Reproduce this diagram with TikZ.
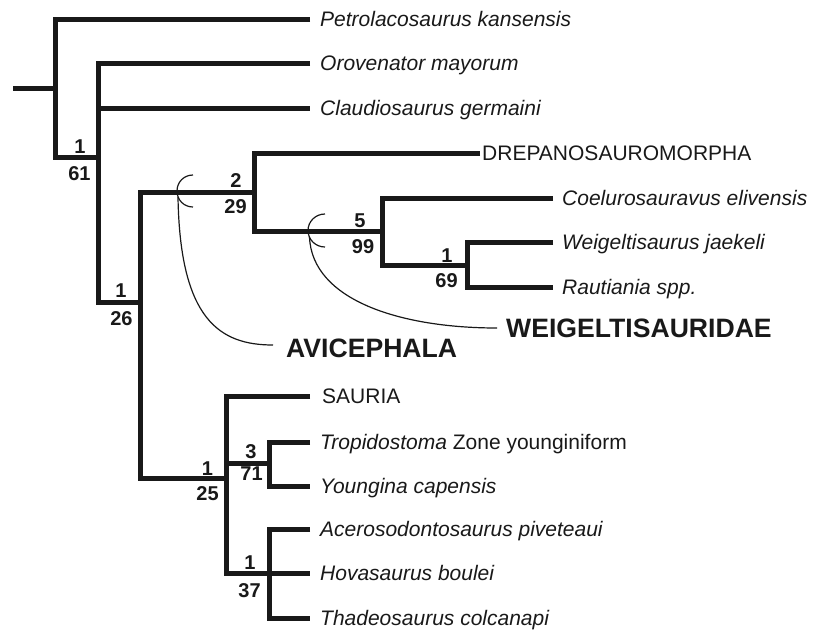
\documentclass[tikz,border=0pt]{standalone}
\usepackage{fontspec}
\setmainfont{Liberation Sans}
\begin{document}
\begin{tikzpicture}[x=1pt,y=-1pt,
  branch/.style={line width=5pt, line join=miter, line cap=butt, black!90},
  taxon/.style={anchor=west, inner sep=0pt, text height=15pt, text depth=0pt, font=\fontsize{21}{25}\selectfont, text=black!90},
  supp/.style={anchor=base, inner sep=0pt, font=\bfseries\fontsize{20}{24}\selectfont, text=black!90},
  clade/.style={anchor=west, inner sep=0pt, text height=19pt, text depth=0pt, font=\bfseries\fontsize{26.6}{30}\selectfont, text=black!90},
  thinline/.style={line width=1.2pt, black!90}
]
\useasboundingbox (0,0) rectangle (816,632);

% internal nodes
\coordinate (r0) at (13,88);
\coordinate (n1) at (55.5,88);
\coordinate (n2) at (98.5,157.5);
\coordinate (n3) at (140.5,302.5);
\coordinate (n4) at (254,192);
\coordinate (n5) at (382,231);
\coordinate (n6) at (467,265);
\coordinate (n7) at (226,478);
\coordinate (n8) at (269,463);
\coordinate (n9) at (269,573);

% branch ends
\coordinate (ePetro) at (310,19);
\coordinate (eOro) at (310,63);
\coordinate (eClau) at (310,108);
\coordinate (eDrep) at (480,153);
\coordinate (eCoel) at (553,198);
\coordinate (eWeig) at (553,242);
\coordinate (eRaut) at (553,287);
\coordinate (eSaur) at (310,396);
\coordinate (eTrop) at (310,442);
\coordinate (eYoun) at (310,486);
\coordinate (eAcer) at (310,529);
\coordinate (eHova) at (310,573);
\coordinate (eThad) at (310,618);

% branches
\draw[branch] (r0) -- (n1);
\draw[branch] (ePetro) -| (n1) |- (n2);
\draw[branch] (eOro) -| (n2) |- (n3);
\draw[branch] (n2 |- eClau) -- (eClau);
\draw[branch] (n4) -| (n3) |- (n7);
\draw[branch] (eDrep) -| (n4) |- (n5);
\draw[branch] (eCoel) -| (n5) |- (n6);
\draw[branch] (eWeig) -| (n6) |- (eRaut);
\draw[branch] (eSaur) -| (n7) |- (n9);
\draw[branch] (n7 |- n8) -- (n8);
\draw[branch] (eTrop) -| (n8) |- (eYoun);
\draw[branch] (eAcer) -| (n9) |- (eThad);
\draw[branch] (n9) -- (eHova);

% taxa
\node[taxon] (tPetro) at ([xshift=10pt]ePetro) {\itshape Petrolacosaurus kansensis};
\node[taxon] (tOro) at ([xshift=10pt]eOro) {\itshape Orovenator mayorum};
\node[taxon] (tClau) at ([xshift=10pt]eClau) {\itshape Claudiosaurus germaini};
\node[taxon] (tDrep) at ([xshift=2pt]eDrep) {DREPANOSAUROMORPHA};
\node[taxon] (tCoel) at ([xshift=9pt]eCoel) {\itshape Coelurosauravus elivensis};
\node[taxon] (tWeig) at ([xshift=9pt]eWeig) {\itshape Weigeltisaurus jaekeli};
\node[taxon] (tRaut) at ([xshift=9pt]eRaut) {\itshape Rautiania spp.};
\node[taxon] (tSaur) at ([xshift=12pt]eSaur) {SAURIA};
\node[taxon] (tTrop) at ([xshift=10pt]eTrop) {\textit{Tropidostoma} Zone younginiform};
\node[taxon] (tYoun) at ([xshift=10pt]eYoun) {\itshape Youngina capensis};
\node[taxon] (tAcer) at ([xshift=10pt]eAcer) {\itshape Acerosodontosaurus piveteaui};
\node[taxon] (tHova) at ([xshift=10pt]eHova) {\itshape Hovasaurus boulei};
\node[taxon] (tThad) at ([xshift=10pt]eThad) {\itshape Thadeosaurus colcanapi};

% support values
\node[supp] (s2a) at (80,153) {1};
\node[supp] (s2b) at (79.5,180) {61};
\node[supp] (s3a) at (121,297) {1};
\node[supp] (s3b) at (121.5,325) {26};
\node[supp] (s4a) at (236,187) {2};
\node[supp] (s4b) at (235.5,213) {29};
\node[supp] (s5a) at (360,227) {5};
\node[supp] (s5b) at (363,253) {99};
\node[supp] (s6a) at (447,262) {1};
\node[supp] (s6b) at (446.5,287) {69};
\node[supp] (s7a) at (207.5,475) {1};
\node[supp] (s7b) at (207.5,500) {25};
\node[supp] (s8a) at (251,458) {3};
\node[supp] (s8b) at (251.5,480) {71};
\node[supp] (s9a) at (250,569) {1};
\node[supp] (s9b) at (249.5,597) {37};

% clade brackets
\coordinate (aTop) at (193,175);
\coordinate (aLeft) at (177,191);
\coordinate (aBot) at (193,207);
\coordinate (aStart) at (178,197);
\coordinate (aEnd) at (273,345);
\draw[thinline] (aTop) .. controls (184,175) and (177,182) .. (aLeft) .. controls (177,200) and (184,207) .. (aBot);
\draw[thinline] (aStart) .. controls (180,320) and (220,345) .. (aEnd);
\node[clade] (cAvi) at (286,347.5) {AVICEPHALA};

\coordinate (wTop) at (325,214);
\coordinate (wLeft) at (308,230.5);
\coordinate (wBot) at (325,247);
\coordinate (wStart) at (309.5,237);
\coordinate (wEnd) at (497,328);
\draw[thinline] (wTop) .. controls (315.5,214) and (308,221.5) .. (wLeft) .. controls (308,239.5) and (315.5,247) .. (wBot);
\draw[thinline] (wStart) .. controls (312,300) and (400,328) .. (wEnd);
\node[clade] (cWeig) at (506,327.5) {WEIGELTISAURIDAE};
\end{tikzpicture}
\end{document}
